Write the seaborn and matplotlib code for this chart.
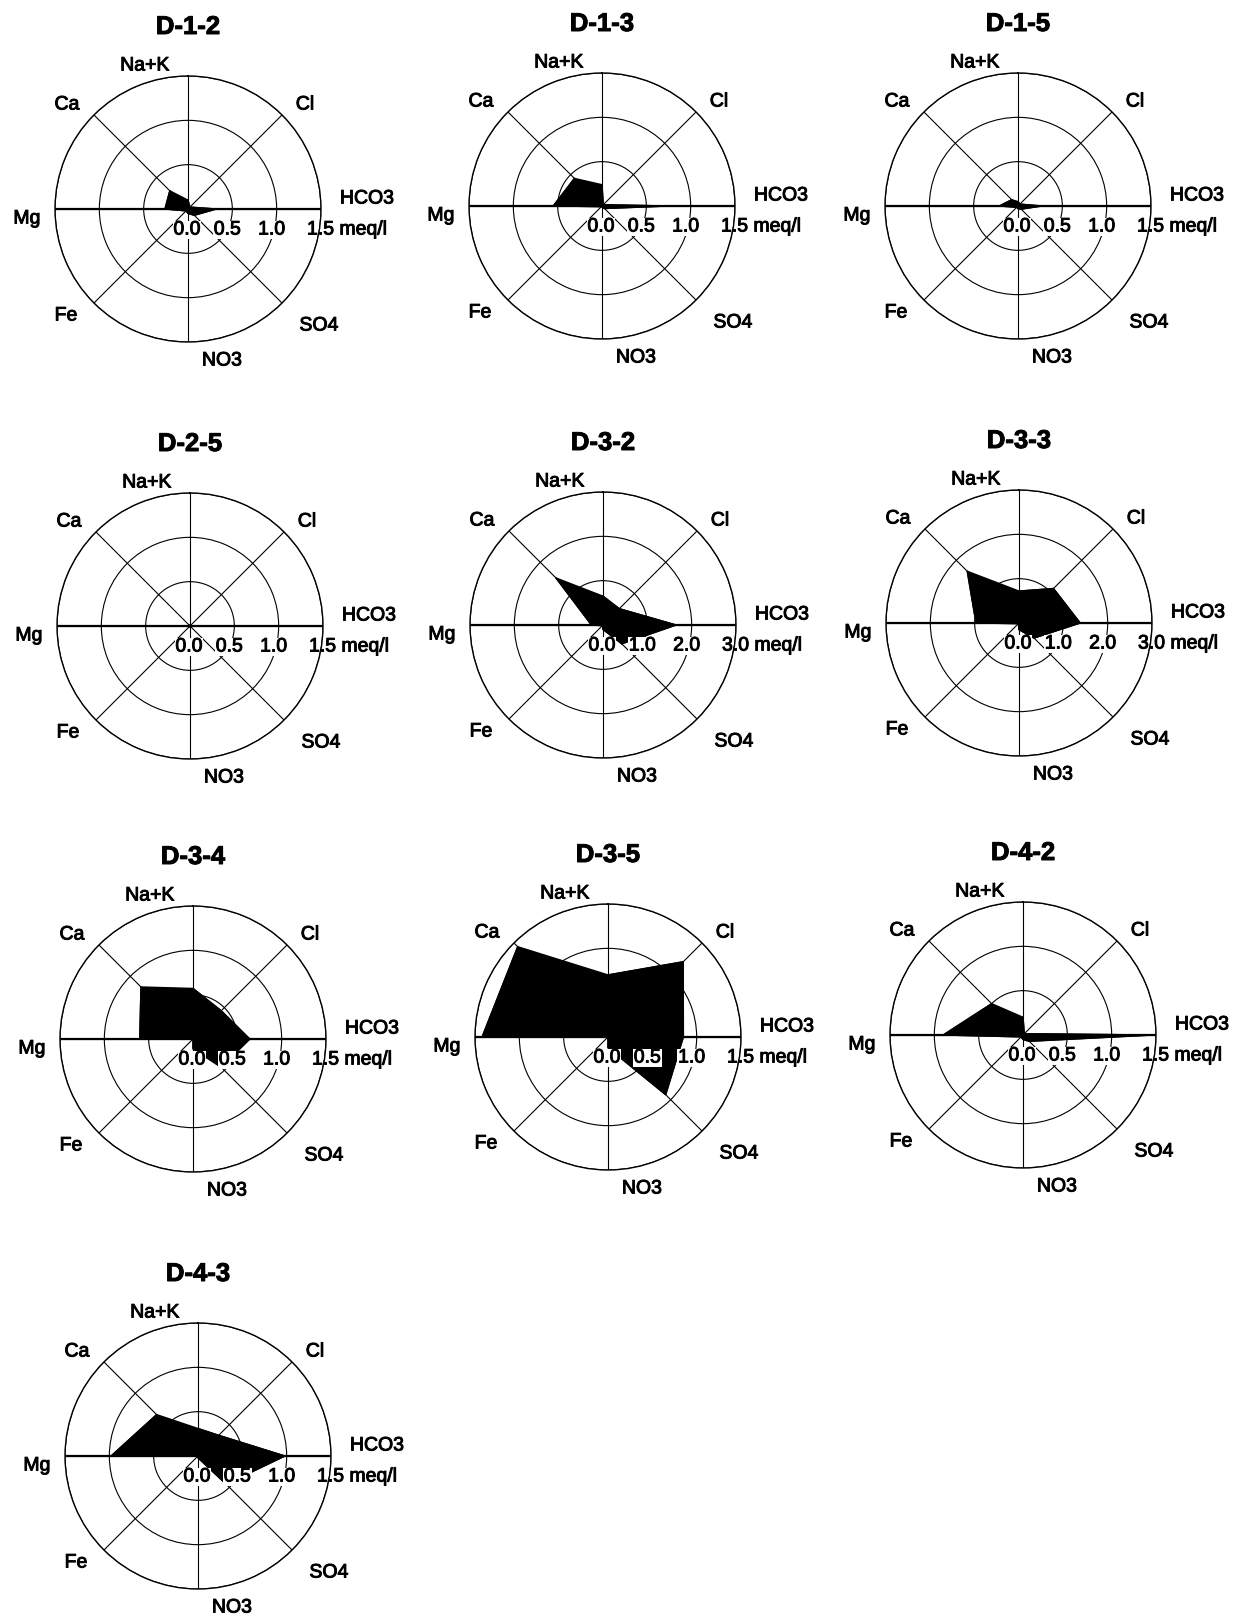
import numpy as np
import matplotlib
matplotlib.use("Agg")
import matplotlib.pyplot as plt
import matplotlib.patheffects as pe
import seaborn as sns

# Ion axes, clockwise from the top
ions = ["Na+K", "Cl", "HCO3", "SO4", "NO3", "Fe", "Mg", "Ca"]

# Sample names
samples = ["D-1-2", "D-1-3", "D-1-5", "D-2-5", "D-3-2", "D-3-3",
           "D-3-4", "D-3-5", "D-4-2", "D-4-3"]

# Concentrations (meq/l) in the order of `ions`
d_1_2 = [0.10, 0.03, 0.32, 0.10, 0.05, 0.03, 0.26, 0.29]
d_1_3 = [0.24, 0.02, 0.75, 0.04, 0.01, 0.01, 0.55, 0.44]
d_1_5 = [0.05, 0.03, 0.27, 0.05, 0.03, 0.02, 0.21, 0.10]
d_2_5 = [0.01, 0.01, 0.02, 0.01, 0.01, 0.01, 0.01, 0.01]
d_3_2 = [0.65, 0.52, 1.65, 0.60, 0.10, 0.02, 0.26, 1.50]
d_3_3 = [0.72, 1.10, 1.38, 0.48, 0.15, 0.02, 0.97, 1.65]
d_3_4 = [0.57, 0.45, 0.64, 0.45, 0.11, 0.00, 0.60, 0.83]
d_3_5 = [0.70, 1.20, 0.85, 0.92, 0.12, 0.00, 1.42, 1.44]
d_4_2 = [0.20, 0.02, 1.47, 0.10, 0.05, 0.03, 0.90, 0.50]
d_4_3 = [0.31, 0.33, 0.98, 0.45, 0.02, 0.00, 0.98, 0.66]

# Value-axis scales
scale_small = [0.0, 0.5, 1.0, 1.5]
scale_large = [0.0, 1.0, 2.0, 3.0]
tick_small = ["0.0", "0.5", "1.0", "1.5"]
tick_large = ["0.0", "1.0", "2.0", "3.0"]
unit = "meq/l"

series = [d_1_2, d_1_3, d_1_5, d_2_5, d_3_2, d_3_3, d_3_4, d_3_5, d_4_2, d_4_3]
uses_large = [False, False, False, False, True, True, False, False, False, False]

# Panel centres in pixels
centres = [(188, 210), (602, 207), (1018, 207),
           (190, 627), (603, 626), (1019, 624),
           (193, 1040), (608, 1038), (1023, 1036),
           (198, 1457)]

W, H = 1247, 1624
R = 133  # outer ring radius in pixels

sns.set_theme(style="white")
plt.rcParams["font.family"] = ["Liberation Sans", "DejaVu Sans"]

fig = plt.figure(figsize=(W / 100, H / 100), dpi=100)
fig.patch.set_facecolor("white")

theta = np.arange(len(ions)) * 2 * np.pi / len(ions)

# Label offsets (pixels from centre) for each ion name
label_off = {"Na+K": (-43, -143), "Cl": (117, -104), "HCO3": (179, -10),
             "SO4": (131, 117), "NO3": (34, 152), "Fe": (-122, 107),
             "Mg": (-161, 10), "Ca": (-121, -104)}

# Slightly heavier strokes for all text
heavy = [pe.withStroke(linewidth=0.7, foreground="black")]


def fx(x):
    return x / W


def fy(y):
    return 1 - y / H


for name, vals, large, (cx, cy) in zip(samples, series, uses_large, centres):
    ticks = scale_large if large else scale_small
    tlabels = tick_large if large else tick_small
    rmax = ticks[-1]

    ax = fig.add_axes([fx(cx - R), fy(cy + R), 2 * R / W, 2 * R / H],
                      projection="polar")
    ax.set_theta_offset(np.pi / 2)
    ax.set_theta_direction(-1)
    ax.set_facecolor("white")
    ax.set_xticks(theta)
    ax.set_xticklabels([])
    ax.set_yticks(ticks[1:])
    ax.set_yticklabels([])
    ax.set_ylim(0, rmax)
    ax.grid(True, color="black", lw=0.8)
    ax.spines["polar"].set_color("black")
    ax.spines["polar"].set_linewidth(1.0)
    ax.set_axisbelow(True)

    # Thicker value axis along Mg - HCO3
    ax.plot([np.pi / 2, 3 * np.pi / 2], [rmax, rmax], color="black",
            lw=1.6, zorder=1)

    th = np.append(theta, theta[0])
    rv = np.append(vals, vals[0])
    ax.fill(th, rv, color="black", zorder=2)
    sns.lineplot(x=th, y=rv, ax=ax, sort=False, color="black", lw=1.0,
                 zorder=3)
    ax.set_xlabel("")
    ax.set_ylabel("")

    # Title
    fig.text(fx(cx), fy(cy - 182), name, ha="center", va="center",
             fontsize=18.5, fontweight="bold", color="black",
             path_effects=heavy)

    # Ion names
    for ion in ions:
        dx, dy = label_off[ion]
        fig.text(fx(cx + dx), fy(cy + dy), ion, ha="center", va="center",
                 fontsize=14, color="black", path_effects=heavy)

    # Value axis tick labels
    for i, (t, lab) in enumerate(zip(ticks, tlabels)):
        rp = t / rmax * R
        if i == 0:
            xc = cx - 1
        else:
            xc = cx + rp - 5
        if i == len(ticks) - 1:
            fig.text(fx(xc - 9), fy(cy + 21), f"{lab} {unit}", ha="left",
                     va="center", fontsize=14, color="black", zorder=5,
                     path_effects=heavy)
        else:
            fig.text(fx(xc), fy(cy + 21), lab, ha="center", va="center",
                     fontsize=14, color="black", zorder=5,
                     path_effects=heavy,
                     bbox=dict(facecolor="white", edgecolor="none", pad=0.5))

fig.savefig("out.png", dpi=100, facecolor="white")
